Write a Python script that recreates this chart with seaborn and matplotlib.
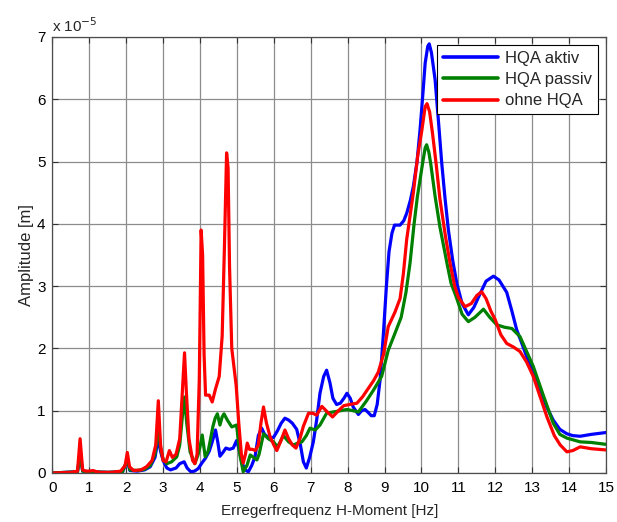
import numpy as np
import pandas as pd
import matplotlib
matplotlib.use("Agg")
import matplotlib.pyplot as plt
import seaborn as sns

# ---------------- data (amplitude in units of 1e-5 m) ----------------
series_names = ["HQA aktiv", "HQA passiv", "ohne HQA"]
series_colors = ["#0000ff", "#008000", "#ff0000"]

f_aktiv = [0.0, 0.68, 0.75, 0.82, 1.0, 1.5, 1.9, 2.03, 2.1, 2.3, 2.5, 2.65, 2.78, 2.87, 2.93,
           3.0, 3.1, 3.2, 3.35, 3.45, 3.57, 3.65, 3.75, 3.85, 3.95, 4.05, 4.15, 4.25, 4.33,
           4.42, 4.48, 4.54, 4.62, 4.7, 4.8, 4.9, 4.99, 5.06, 5.13, 5.22, 5.31, 5.4, 5.49,
           5.58, 5.67, 5.75, 5.85, 5.99, 6.1, 6.2, 6.3, 6.4, 6.5, 6.62, 6.72, 6.8, 6.88, 6.97,
           7.07, 7.16, 7.25, 7.35, 7.43, 7.52, 7.6, 7.7, 7.8, 7.9, 7.98, 8.07, 8.15, 8.29,
           8.38, 8.47, 8.56, 8.64, 8.72, 8.8, 8.88, 8.97, 9.05, 9.12, 9.2, 9.27, 9.42, 9.52,
           9.6, 9.7, 9.78, 9.88, 9.96, 10.04, 10.1, 10.17, 10.21, 10.27, 10.37, 10.46, 10.55,
           10.64, 10.73, 10.85, 10.96, 11.1, 11.27, 11.42, 11.59, 11.75, 11.95, 12.1, 12.31,
           12.45, 12.58, 12.72, 12.85, 13.03, 13.21, 13.4, 13.57, 13.75, 13.94, 14.1, 14.3,
           14.6, 15.0]
a_aktiv = [0.0, 0.02, 0.3, 0.03, 0.02, 0.01, 0.02, 0.2, 0.04, 0.03, 0.05, 0.1, 0.25, 0.56, 0.35,
           0.2, 0.08, 0.05, 0.08, 0.15, 0.18, 0.08, 0.02, 0.03, 0.07, 0.16, 0.24, 0.35, 0.5,
           0.69, 0.5, 0.27, 0.33, 0.4, 0.38, 0.4, 0.52, 0.38, 0.18, 0.05, 0.02, 0.12, 0.26,
           0.6, 0.72, 0.62, 0.57, 0.57, 0.68, 0.8, 0.88, 0.85, 0.8, 0.7, 0.45, 0.18, 0.08, 0.25,
           0.5, 0.85, 1.28, 1.55, 1.65, 1.45, 1.2, 1.1, 1.12, 1.2, 1.28, 1.2, 1.06, 0.94,
           1.0, 1.02, 0.97, 0.92, 0.92, 1.1, 1.5, 2.25, 3.0, 3.55, 3.85, 3.98, 3.98, 4.05,
           4.17, 4.38, 4.6, 5.0, 5.5, 6.1, 6.58, 6.85, 6.89, 6.75, 6.31, 5.65, 4.97,
           4.4, 3.9, 3.4, 3.04, 2.72, 2.54, 2.66, 2.88, 3.08, 3.16, 3.1, 2.9,
           2.6, 2.3, 2.08, 1.87, 1.6, 1.33, 1.05, 0.85, 0.7, 0.63, 0.6, 0.59,
           0.62, 0.65]

f_passiv = [0.0, 0.68, 0.75, 0.82, 1.0, 1.5, 1.9, 2.03, 2.1, 2.3, 2.5, 2.65, 2.78, 2.87, 2.93,
            3.0, 3.1, 3.23, 3.37, 3.45, 3.52, 3.58, 3.64, 3.73, 3.86, 3.95, 4.0, 4.06, 4.14,
            4.22, 4.27, 4.35, 4.41, 4.47, 4.54, 4.6, 4.65, 4.74, 4.86, 4.99, 5.08, 5.17, 5.27,
            5.36, 5.45, 5.54, 5.6, 5.72, 5.85, 5.99, 6.1, 6.26, 6.4, 6.53, 6.65, 6.76, 6.88,
            6.98, 7.12, 7.25, 7.43, 7.61, 7.8, 7.98, 8.15, 8.29, 8.5, 8.7, 8.92, 9.1, 9.28,
            9.45, 9.58, 9.69, 9.8, 9.89, 10.03, 10.1, 10.14, 10.2, 10.25, 10.37, 10.5, 10.69,
            10.8, 10.94, 11.1, 11.27, 11.45, 11.68, 11.85, 12.04, 12.25, 12.45, 12.67, 12.85,
            13.03, 13.3, 13.57, 13.75, 13.94, 14.3, 14.6, 15.0]
a_passiv = [0.0, 0.02, 0.3, 0.03, 0.02, 0.01, 0.02, 0.22, 0.05, 0.04, 0.06, 0.12, 0.3, 0.75, 0.4,
            0.22, 0.15, 0.18, 0.26, 0.45, 0.9, 1.22, 0.8, 0.34, 0.15, 0.3, 0.42, 0.61, 0.26,
            0.35, 0.5, 0.75, 0.88, 0.95, 0.77, 0.9, 0.95, 0.85, 0.74, 0.77, 0.29, 0.02, 0.12,
            0.29, 0.25, 0.21, 0.3, 0.63, 0.55, 0.5, 0.42, 0.6, 0.5, 0.45, 0.48, 0.5, 0.6,
            0.72, 0.69, 0.77, 0.96, 0.98, 1.0, 1.02, 1.0, 0.98, 1.15, 1.33, 1.55, 1.97, 2.24,
            2.5, 2.9, 3.37, 4.0, 4.44, 4.97, 5.22, 5.27, 5.15, 4.97, 4.44, 3.95, 3.37,
            3.05, 2.83, 2.55, 2.43, 2.5, 2.63, 2.5, 2.38, 2.34, 2.32, 2.19, 1.95,
            1.71, 1.25, 0.8, 0.62, 0.56, 0.5, 0.49, 0.46]

f_ohne = [0.0, 0.5, 0.68, 0.75, 0.82, 0.9, 1.0, 1.1, 1.2, 1.3, 1.6, 1.85, 1.97, 2.03, 2.09, 2.2,
          2.4, 2.55, 2.7, 2.8, 2.87, 2.93, 3.0, 3.08, 3.17, 3.25, 3.35, 3.45, 3.53, 3.58, 3.63,
          3.7, 3.8, 3.86, 3.92, 3.98, 4.03, 4.07, 4.11, 4.15, 4.25, 4.33, 4.42, 4.52, 4.6,
          4.66, 4.72, 4.76, 4.8, 4.86, 4.92, 4.98, 5.05, 5.12, 5.17, 5.23, 5.28, 5.34, 5.42,
          5.5, 5.58, 5.65, 5.72, 5.8, 5.9, 6.0, 6.08, 6.18, 6.3, 6.4, 6.5, 6.6, 6.71, 6.8,
          6.94, 7.05, 7.16, 7.3, 7.45, 7.59, 7.75, 7.89, 8.05, 8.25, 8.4, 8.56, 8.7, 8.83,
          8.97, 9.1, 9.28, 9.42, 9.51, 9.6, 9.78, 9.9, 10.01, 10.1, 10.15, 10.22, 10.3, 10.4,
          10.5, 10.65, 10.78, 10.9, 11.0, 11.18, 11.35, 11.5, 11.63, 11.75, 11.88, 12.0,
          12.15, 12.31, 12.5, 12.67, 12.85, 13.03, 13.2, 13.4, 13.6, 13.76, 13.94, 14.1,
          14.3, 14.6, 15.0]
a_ohne = [0.0, 0.01, 0.03, 0.55, 0.05, 0.03, 0.03, 0.04, 0.02, 0.01, 0.01, 0.03, 0.12, 0.33, 0.1, 0.04,
          0.05, 0.1, 0.2, 0.45, 1.16, 0.45, 0.2, 0.18, 0.36, 0.25, 0.3, 0.55, 1.4, 1.93, 1.3,
          0.55, 0.2, 0.15, 0.3, 1.5, 3.9, 3.5, 1.9, 1.25, 1.25, 1.14, 1.35, 1.55, 2.2,
          3.6, 5.14, 4.9, 3.3, 2.0, 1.7, 1.4, 0.8, 0.3, 0.16, 0.3, 0.48, 0.38, 0.38,
          0.36, 0.45, 0.8, 1.06, 0.8, 0.58, 0.45, 0.36, 0.5, 0.69, 0.55, 0.45, 0.4, 0.56, 0.75,
          0.96, 0.96, 0.93, 1.07, 0.98, 0.9, 1.0, 1.08, 1.1, 1.12, 1.22, 1.36, 1.48, 1.62,
          1.9, 2.35, 2.58, 2.8, 3.2, 3.75, 4.5, 5.1, 5.5, 5.88, 5.93, 5.8, 5.45, 4.95,
          4.4, 3.8, 3.35, 3.0, 2.82, 2.67, 2.72, 2.85, 2.91, 2.8, 2.6, 2.46,
          2.22, 2.08, 2.02, 1.95, 1.78, 1.55, 1.25, 0.9, 0.6, 0.45, 0.34, 0.36,
          0.42, 0.39, 0.37]

x_ticks = list(range(0, 16))
y_ticks = list(range(0, 8))
x_label = "Erregerfrequenz H-Moment [Hz]"
y_label = "Amplitude [m]"

# ---------------- build long table ----------------
frames = []
for name, fx, ay in [(series_names[0], f_aktiv, a_aktiv),
                     (series_names[1], f_passiv, a_passiv),
                     (series_names[2], f_ohne, a_ohne)]:
    frames.append(pd.DataFrame({"f": fx, "amp": ay, "series": name}))
df = pd.concat(frames, ignore_index=True)

# ---------------- plot ----------------
sns.set_theme(style="white")
plt.rcParams["font.family"] = ["Liberation Sans", "DejaVu Sans"]

fig = plt.figure(figsize=(6.17, 5.22), dpi=100)
ax = fig.add_axes([52.4 / 617, (522 - 473) / 522, (606 - 52.4) / 617, (473 - 37) / 522])

sns.lineplot(data=df, x="f", y="amp", hue="series", hue_order=series_names,
             palette=dict(zip(series_names, series_colors)), estimator=None,
             sort=True, linewidth=2.3, ax=ax, legend=True)

ax.set_xlim(0, 15)
ax.set_ylim(0, 7)
ax.set_xticks(x_ticks)
ax.set_yticks(y_ticks)
ax.set_xticklabels([str(t) for t in x_ticks], fontsize=11)
ax.set_yticklabels([str(t) for t in y_ticks], fontsize=11)
ax.grid(True, color="#8c8c8c", linewidth=0.9)
ax.set_axisbelow(True)
ax.tick_params(direction="in", length=4, width=0.8, top=True, right=True,
               bottom=True, left=True, colors="#333333", labelcolor="black")
ax.tick_params(axis="x", pad=6)
ax.tick_params(axis="y", pad=5)
for sp in ax.spines.values():
    sp.set_color("#4d4d4d")
    sp.set_linewidth(0.9)

ax.set_xlabel(x_label, fontsize=11, labelpad=6)
ax.set_ylabel(y_label, fontsize=12, labelpad=2)

ax.text(0.0, 1.005, "x 10$^{-5}$", transform=ax.transAxes, fontsize=11,
        ha="left", va="bottom")

leg = ax.legend(loc="upper right", bbox_to_anchor=(0.9855, 0.982), borderaxespad=0,
                fontsize=12, handlelength=3.3, frameon=True, fancybox=False,
                edgecolor="black", framealpha=1, borderpad=0.35, labelspacing=0.38,
                handletextpad=0.45)
leg.get_frame().set_linewidth(0.8)
for line in leg.get_lines():
    line.set_linewidth(2.6)

fig.savefig("out.png", dpi=100)
